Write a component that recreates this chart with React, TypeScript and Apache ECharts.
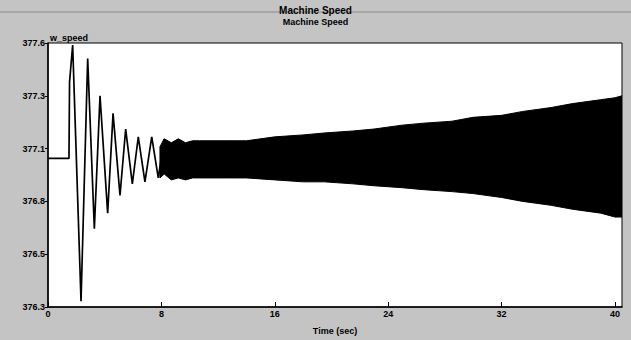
import React, { useEffect, useRef } from "react";
import * as echarts from "echarts";

// ---- data ----
const chartTitle = "Machine Speed";
const chartSubtitle = "Machine Speed";
const seriesName = "w_speed";
const xAxisName = "Time (sec)";

const xTicks = [0, 8, 16, 24, 32, 40];
const yTicks = [376.25, 376.52, 376.79, 377.06, 377.33, 377.6];
const yTickLabels = ["376.3", "376.5", "376.8", "377.1", "377.3", "377.6"];

// initial swing (peaks / troughs)
const timeEarly = [0, 1.48, 1.52, 1.74, 2.33, 2.8, 3.27, 3.67, 4.21, 4.59, 5.08, 5.48, 5.95, 6.37, 6.84, 7.32, 7.78, 8.2];
const speedEarly = [377.01, 377.01, 377.4, 377.59, 376.28, 377.52, 376.65, 377.33, 376.73, 377.24, 376.82, 377.16, 376.88, 377.12, 376.89, 377.12, 376.91, 377.11];

// fast oscillation band (envelope)
const bandTime = [7.9, 8.2, 8.7, 9.2, 9.7, 10.2, 10.7, 12.5, 14, 16, 18, 19.5, 21.5, 23, 25, 26.5, 28.5, 30, 32, 33.5, 35.5, 37, 39, 40, 40.5];
const bandUpper = [377.07, 377.11, 377.09, 377.11, 377.09, 377.1, 377.1, 377.1, 377.1, 377.12, 377.13, 377.14, 377.15, 377.16, 377.18, 377.19, 377.2, 377.22, 377.23, 377.25, 377.27, 377.29, 377.31, 377.32, 377.33];
const bandLower = [376.91, 376.93, 376.9, 376.91, 376.9, 376.91, 376.91, 376.91, 376.91, 376.9, 376.89, 376.89, 376.88, 376.87, 376.86, 376.85, 376.84, 376.83, 376.81, 376.79, 376.77, 376.75, 376.73, 376.71, 376.71];

const FONT = "'Liberation Sans', Arial, sans-serif";

export default function App() {
  const ref = useRef<HTMLDivElement>(null);

  useEffect(() => {
    if (!ref.current) return;
    const chart = echarts.init(ref.current, undefined, { renderer: "svg" });

    const early = timeEarly.map((t, i) => [t, speedEarly[i]]);
    const bandData = bandTime.map((t, i) => [t, bandLower[i], bandUpper[i]]);

    const nearestLabel = (v: number) => {
      let best = 0;
      for (let i = 1; i < yTicks.length; i++) {
        if (Math.abs(yTicks[i] - v) < Math.abs(yTicks[best] - v)) best = i;
      }
      return yTickLabels[best];
    };

    chart.setOption({
      animation: false,
      backgroundColor: "#c4c4c4",
      textStyle: { fontFamily: FONT },
      title: [
        {
          text: chartTitle,
          left: "center",
          top: 0,
          textStyle: { fontSize: 10, fontWeight: "bold", color: "#000", fontFamily: FONT },
        },
        {
          text: chartSubtitle,
          left: "center",
          top: 12,
          textStyle: { fontSize: 9, fontWeight: "bold", color: "#000", fontFamily: FONT },
        },
      ],
      graphic: [
        {
          type: "line",
          shape: { x1: 0, y1: 12, x2: 631, y2: 12 },
          style: { stroke: "#8a8a8a", lineWidth: 1 },
          z: -1,
        },
        {
          type: "text",
          left: 50,
          top: 33,
          style: { text: seriesName, font: `bold 9px ${FONT}`, fill: "#000" },
          z: 10,
        },
      ],
      grid: {
        left: 48,
        top: 43,
        right: 9,
        bottom: 27,
        show: true,
        backgroundColor: "#ffffff",
        borderColor: "#000",
        borderWidth: 1,
      },
      xAxis: {
        type: "value",
        min: 0,
        max: 40.5,
        name: xAxisName,
        nameLocation: "middle",
        nameGap: 19,
        nameTextStyle: { fontSize: 9, fontWeight: "bold", color: "#000", fontFamily: FONT },
        axisLine: { show: true, lineStyle: { color: "#000", width: 1.5 } },
        axisTick: { show: true, inside: true, length: 5, customValues: xTicks, lineStyle: { color: "#000" } },
        axisLabel: {
          customValues: xTicks,
          formatter: (v: number) => String(v),
          fontSize: 9,
          fontWeight: "bold",
          color: "#000",
          margin: 2,
          fontFamily: FONT,
        },
        splitLine: { show: false },
      },
      yAxis: {
        type: "value",
        min: 376.25,
        max: 377.6,
        axisLine: { show: true, lineStyle: { color: "#000", width: 1.5 } },
        axisTick: { show: true, length: 3, customValues: yTicks, lineStyle: { color: "#000" } },
        axisLabel: {
          customValues: yTicks,
          formatter: (v: number) => nearestLabel(v),
          fontSize: 9,
          fontWeight: "bold",
          color: "#000",
          margin: 3,
          fontFamily: FONT,
        },
        splitLine: { show: false },
      },
      series: [
        {
          name: seriesName,
          type: "line",
          data: early,
          showSymbol: false,
          symbol: "none",
          lineStyle: { color: "#000", width: 1.7 },
          z: 3,
        },
        {
          name: "band",
          type: "custom",
          data: bandData,
          encode: { x: 0, y: [1, 2] },
          clip: true,
          z: 2,
          renderItem: (params: any, api: any) => {
            if (params.dataIndex !== 0) return null;
            const top: number[][] = [];
            const bottom: number[][] = [];
            for (let i = 0; i < bandTime.length; i++) {
              top.push(api.coord([bandTime[i], bandUpper[i]]));
              bottom.push(api.coord([bandTime[i], bandLower[i]]));
            }
            const points = top.concat(bottom.reverse());
            const cs = params.coordSys;
            return {
              type: "polygon",
              shape: { points },
              clipPath: {
                type: "rect",
                shape: { x: cs.x, y: cs.y, width: cs.width, height: cs.height },
              },
              style: { fill: "#000", stroke: "#000", lineWidth: 1 },
            };
          },
        },
      ],
    });

    return () => chart.dispose();
  }, []);

  return (
    <div
      ref={ref}
      style={{ position: "fixed", left: 0, top: 0, width: 631, height: 340 }}
    />
  );
}
